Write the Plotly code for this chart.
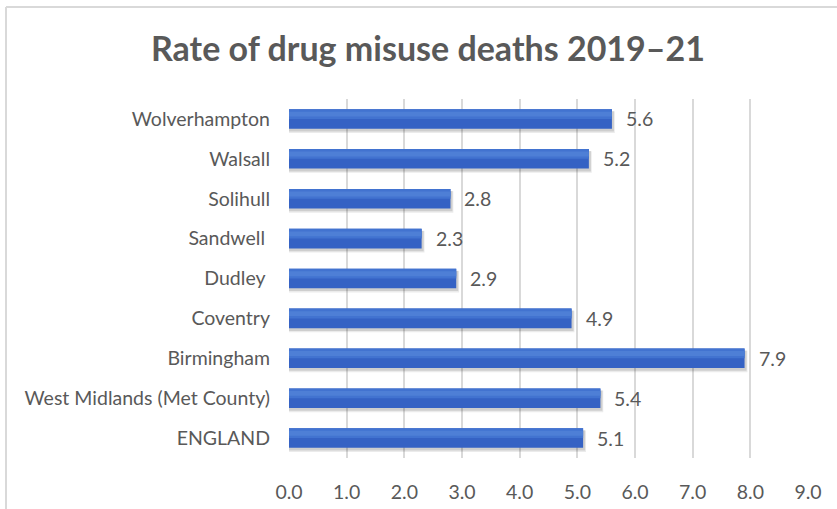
import plotly.graph_objects as go

# Drug misuse death rates, 2019–21 (bottom to top as drawn)
areas = [
    "ENGLAND",
    "West Midlands (Met County)",
    "Birmingham",
    "Coventry",
    "Dudley\u00a0",
    "Sandwell\u00a0",
    "Solihull",
    "Walsall",
    "Wolverhampton",
]
rates = [5.1, 5.4, 7.9, 4.9, 2.9, 2.3, 2.8, 5.2, 5.6]
x_ticks = [0, 1, 2, 3, 4, 5, 6, 7, 8, 9]
x_tick_labels = ["0.0", "1.0", "2.0", "3.0", "4.0", "5.0", "6.0", "7.0", "8.0", "9.0"]

W, H = 837, 509
ML, MR, MT, MB = 289, 29, 99, 51
plot_w = W - ML - MR
plot_h = H - MT - MB

bar_w = 0.49
text_col = "#595959"
font_family = "Lato, 'Open Sans', sans-serif"
label_size = 19.5

fig = go.Figure()

# soft drop shadow under each bar
for dx, dy, alpha, grow in [(0.05, -0.08, 0.08, 0.05), (0.035, -0.06, 0.12, 0.02)]:
    fig.add_trace(go.Bar(
        y=list(range(len(areas))), x=[r + dx for r in rates], orientation="h",
        width=bar_w + grow, offset=-(bar_w + grow) / 2 + dy,
        marker=dict(color=f"rgba(0,0,0,{alpha})", line=dict(width=0)),
        hoverinfo="skip", showlegend=False,
    ))

# main bars
fig.add_trace(go.Bar(
    y=list(range(len(areas))), x=rates, orientation="h",
    width=bar_w, offset=-bar_w / 2,
    marker=dict(color="#3562C4", line=dict(width=0)),
    showlegend=False,
))
# lighter upper bands for a gentle vertical gradient
fig.add_trace(go.Bar(
    y=list(range(len(areas))), x=rates, orientation="h",
    width=bar_w * 0.5, offset=0.0,
    marker=dict(color="#4273D0", line=dict(width=0)),
    hoverinfo="skip", showlegend=False,
))
fig.add_trace(go.Bar(
    y=list(range(len(areas))), x=rates, orientation="h",
    width=bar_w * 0.25, offset=bar_w * 0.12,
    marker=dict(color="#4E7FD6", line=dict(width=0)),
    hoverinfo="skip", showlegend=False,
))

# value labels
for i, r in enumerate(rates):
    fig.add_annotation(
        x=r, y=i, text=f"{r:.1f}", showarrow=False,
        xanchor="left", yanchor="middle", xshift=12,
        font=dict(family=font_family, size=label_size, color=text_col),
    )

# chart frame edges (left and top)
x_left = (6 - ML) / plot_w
y_top = (H - MB - 7) / plot_h
fig.add_shape(type="line", xref="paper", yref="paper",
              x0=x_left, x1=(W - ML) / plot_w + 0.01, y0=y_top, y1=y_top,
              line=dict(color="#D9D9D9", width=2))
fig.add_shape(type="line", xref="paper", yref="paper",
              x0=x_left, x1=x_left, y0=-MB / plot_h - 0.01, y1=y_top,
              line=dict(color="#D9D9D9", width=2))

fig.update_layout(
    width=W, height=H,
    margin=dict(l=ML, r=MR, t=MT, b=MB, autoexpand=False),
    paper_bgcolor="white", plot_bgcolor="white",
    barmode="overlay",
    title=dict(
        text="<b>Rate of drug misuse deaths 2019–21</b>",
        x=428 / W, xanchor="center", xref="container",
        y=1 - 49 / H, yanchor="middle", yref="container",
        font=dict(family=font_family, size=34, color=text_col),
    ),
    xaxis=dict(
        range=[0, 9], tickvals=x_ticks, ticktext=x_tick_labels,
        showgrid=True, gridcolor="#D9D9D9", gridwidth=1.5,
        zeroline=False, showline=False, ticks="",
        ticklabelstandoff=20, automargin=False,
        tickfont=dict(family=font_family, size=label_size, color=text_col),
        fixedrange=True,
    ),
    yaxis=dict(
        range=[-0.5, len(areas) - 0.5],
        tickvals=list(range(len(areas))), ticktext=areas,
        showgrid=False, zeroline=False, showline=False, ticks="",
        ticklabelstandoff=18, automargin=False,
        tickfont=dict(family=font_family, size=label_size, color=text_col),
        fixedrange=True,
    ),
)

fig.write_html("out.html")
